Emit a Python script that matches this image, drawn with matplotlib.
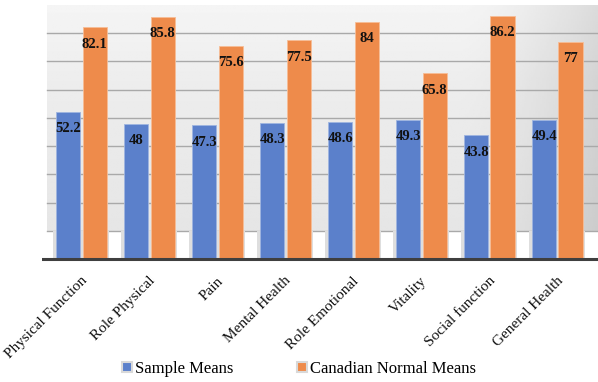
import numpy as np
import matplotlib
matplotlib.use("Agg")
import matplotlib.pyplot as plt
from matplotlib.patches import Rectangle, Patch

# ---------------------------------------------------------------------------
# Data
# ---------------------------------------------------------------------------
categories = ["Physical Function", "Role Physical", "Pain", "Mental Health",
              "Role Emotional", "Vitality", "Social function", "General Health"]
sample_means = [52.2, 48, 47.3, 48.3, 48.6, 49.3, 43.8, 49.4]
canadian_means = [82.1, 85.8, 75.6, 77.5, 84, 65.8, 86.2, 77]
series_names = ["Sample Means", "Canadian Normal Means"]

BLUE = "#5b80cb"
ORANGE = "#ee8b4b"
SERIF = ["Liberation Serif", "DejaVu Serif"]

# ---------------------------------------------------------------------------
# Figure / axes placed to mimic the Excel 3D column layout
# ---------------------------------------------------------------------------
fig = plt.figure(figsize=(5.98, 3.82), dpi=100)
ax = fig.add_axes([42 / 598, 0.3147, 1 - 42 / 598, 0.9869 - 0.3147])
ax.set_xlim(-0.581, 7.596)
ax.set_ylim(-1, 90)
for s in ax.spines.values():
    s.set_visible(False)

x = np.arange(len(categories))
off, w = 0.195, 0.36

# back wall with soft gradient (sits 10 units "behind" the front baseline)
gx, gy = np.meshgrid(np.linspace(0, 1, 300), np.linspace(0, 1, 150))
wall = (0.945 - 0.045 * gy
        - 0.10 * np.clip((gx - 0.75) / 0.25, 0, 1) ** 1.5
        + 0.015 * np.clip(1 - gy * 3, 0, 1))
ax.imshow(np.clip(wall, 0, 1), cmap="gray", vmin=0, vmax=1, aspect="auto",
          extent=(-0.507, 7.596, 10, 90), zorder=0)

# wall gridlines
for g in range(10, 90, 10):
    ax.plot([-0.507, 7.596], [g, g], color="#a9a9a9", lw=1.0, zorder=1)

# floor shadows behind each pair
for xi in x:
    ax.add_patch(Rectangle((xi - off - w / 2 - 0.045, -0.8),
                           2 * off + w + 0.08, 10.8,
                           facecolor="#dedede", edgecolor="none", zorder=1))

# bars
b1 = ax.bar(x - off, sample_means, w, color=BLUE, edgecolor="#9fb5e0",
            linewidth=0.6, zorder=3)
b2 = ax.bar(x + off, canadian_means, w, color=ORANGE, edgecolor="#f7bd96",
            linewidth=0.6, zorder=3)

# front axis line
ax.axhline(0, color="#3f3f3f", lw=2.2, zorder=4)

# value labels
for bars, vals in ((b1, sample_means), (b2, canadian_means)):
    for rect, v in zip(bars, vals):
        ax.annotate(f"{v:g}", (rect.get_x() + rect.get_width() / 2, v),
                    xytext=(0, -17), textcoords="offset pixels",
                    ha="center", va="center", fontsize=10.5,
                    fontweight="bold", family=SERIF, color="#111111",
                    zorder=5)

# category labels
ax.set_yticks([])
ax.set_xticks(x + 0.12)
ax.set_xticklabels(categories, rotation=45, ha="right", va="top",
                   fontsize=11, family=SERIF, color="#111111")
ax.tick_params(axis="x", length=0, pad=9)

# legend
handles = [Patch(facecolor=BLUE, edgecolor="#d9d9d9", linewidth=1.5),
           Patch(facecolor=ORANGE, edgecolor="#d9d9d9", linewidth=1.5)]
fig.legend(handles, series_names, loc="center",
           bbox_to_anchor=(0.5, 1 - 369 / 382),
           ncol=2, frameon=False, handlelength=0.6, handleheight=0.6,
           handletextpad=0.2, columnspacing=3.8,
           prop={"family": SERIF, "size": 12})

fig.savefig("out.png", dpi=100)
